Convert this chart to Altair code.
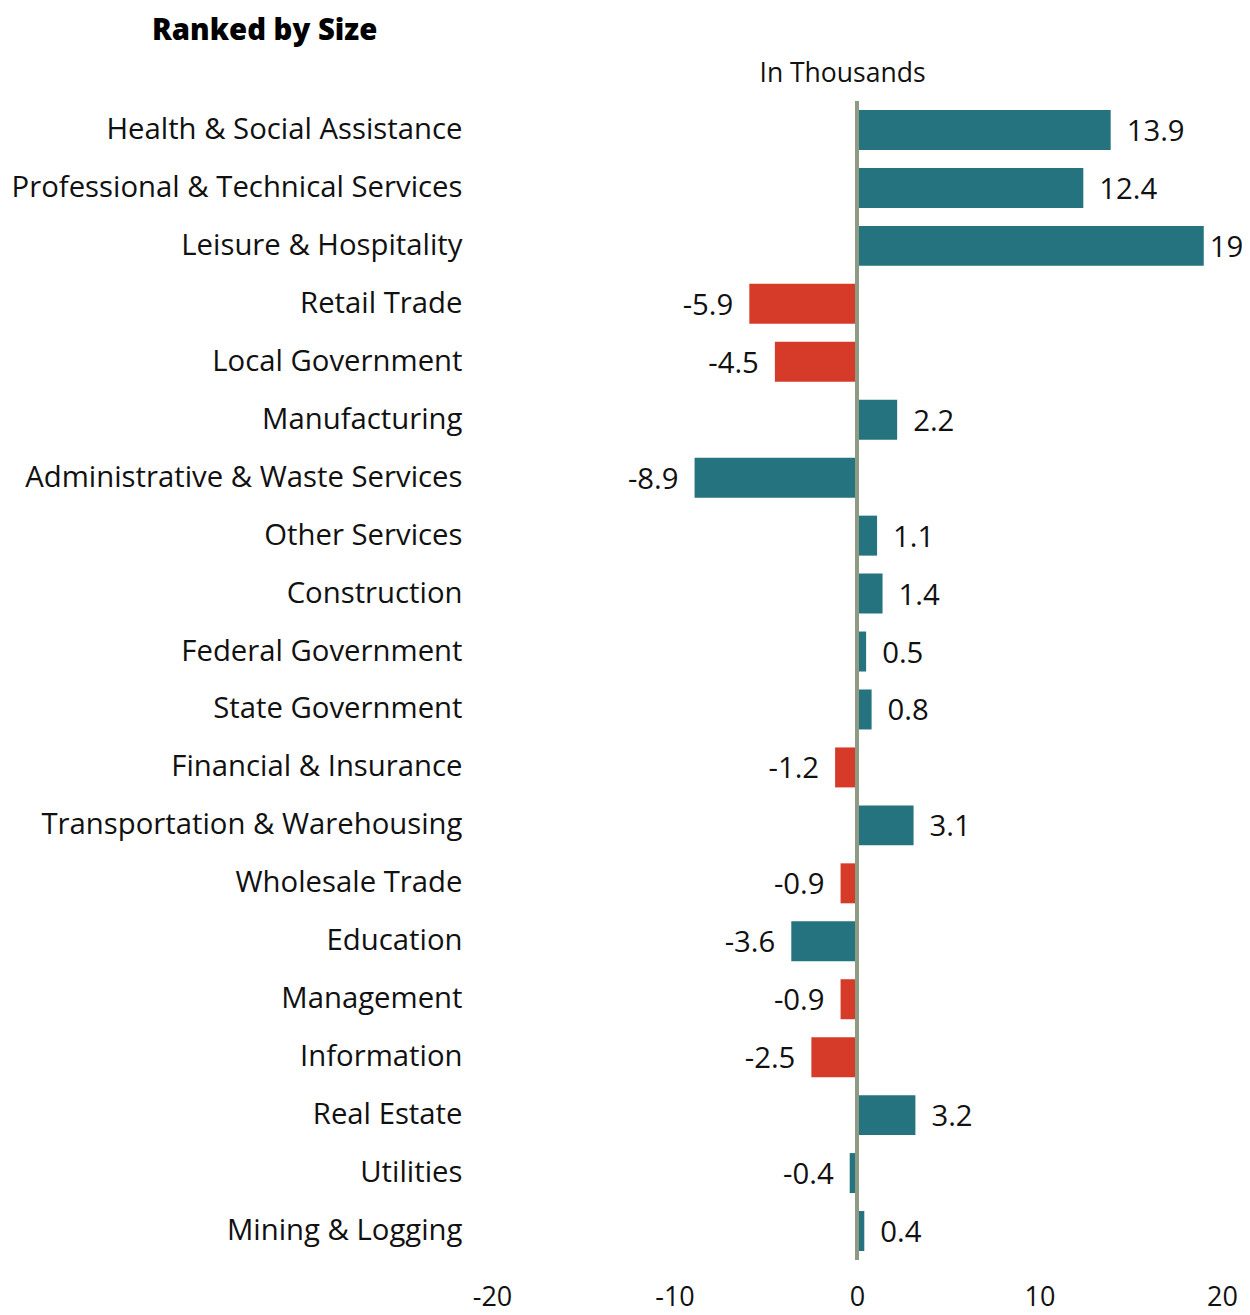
import altair as alt
import pandas as pd

categories = [
    "Health & Social Assistance",
    "Professional & Technical Services",
    "Leisure & Hospitality",
    "Retail Trade",
    "Local Government",
    "Manufacturing",
    "Administrative & Waste Services",
    "Other Services",
    "Construction",
    "Federal Government",
    "State Government",
    "Financial & Insurance",
    "Transportation & Warehousing",
    "Wholesale Trade",
    "Education",
    "Management",
    "Information",
    "Real Estate",
    "Utilities",
    "Mining & Logging",
]
values = [13.9, 12.4, 19, -5.9, -4.5, 2.2, -8.9, 1.1, 1.4, 0.5, 0.8, -1.2, 3.1,
          -0.9, -3.6, -0.9, -2.5, 3.2, -0.4, 0.4]
groups = ["teal", "teal", "teal", "red", "red", "teal", "teal", "teal", "teal",
          "teal", "teal", "red", "teal", "red", "teal", "red", "red", "teal",
          "teal", "teal"]
x_ticks = [-20, -10, 0, 10, 20]

df = pd.DataFrame({"category": categories, "value": values, "group": groups})
df["label"] = [f"{v:g}" for v in values]

FONT = "Open Sans"
TEXT = "#111111"
FS = 29.3

y_enc = alt.Y(
    "category:N",
    sort=categories,
    scale=alt.Scale(paddingInner=0.31, paddingOuter=0.155),
    axis=alt.Axis(title=None, labelFont=FONT, labelFontSize=FS, labelColor=TEXT,
                  labelPadding=30, ticks=False, domain=False, labelLimit=700),
)
x_scale = alt.Scale(domain=[-20, 20], nice=False)
x_enc = alt.X(
    "value:Q",
    scale=x_scale,
    axis=alt.Axis(title=None, values=x_ticks, grid=False, ticks=False, domain=False,
                  labelFlush=False, labelExpr="toString(datum.value)",
                  labelFont=FONT, labelFontSize=27, labelColor=TEXT, labelPadding=24),
)

base = alt.Chart(df)

bars = base.mark_bar().encode(
    x=x_enc,
    y=y_enc,
    color=alt.Color("group:N",
                    scale=alt.Scale(domain=["teal", "red"], range=["#25737E", "#D63B2A"]),
                    legend=None),
)

pos_labels = base.transform_filter("datum.value >= 0").mark_text(
    align="left", baseline="middle", dx=alt.expr("datum.value > 18 ? 6 : 16"), dy=2,
    font=FONT, fontSize=FS, color=TEXT
).encode(x=alt.X("value:Q", scale=x_scale, axis=None),
         y=alt.Y("category:N", sort=categories), text="label:N")

neg_labels = base.transform_filter("datum.value < 0").mark_text(
    align="right", baseline="middle", dx=-16, dy=2, font=FONT, fontSize=FS, color=TEXT
).encode(x=alt.X("value:Q", scale=x_scale, axis=None),
         y=alt.Y("category:N", sort=categories), text="label:N")

zero = alt.Chart(pd.DataFrame({"zero": [0]})).mark_rule(color="#8F9A84", strokeWidth=4).encode(
    x=alt.X("zero:Q", scale=x_scale,
            axis=alt.Axis(orient="top", title="In Thousands", labels=False, ticks=False,
                          domain=False, grid=False, titleFont=FONT, titleFontSize=26.5,
                          titleFontWeight="normal", titleColor=TEXT, titleX=350, titleY=-20,
                          titleAlign="center", titleBaseline="alphabetic"))
)

chart = alt.layer(bars, pos_labels, neg_labels, zero).resolve_axis(x="independent").properties(
    width=730,
    height=1159,
    autosize="none",
    padding={"left": 484, "top": 93, "right": 20, "bottom": 47},
    title=alt.TitleParams("Ranked by Size", anchor="start", frame="group", dx=-340,
                          offset=14, font=FONT, fontSize=FS, fontWeight=800, color="#000000"),
).configure(font=FONT, view=alt.ViewConfig(strokeWidth=0))

chart.save("out.html", embed_options={"renderer": "svg", "actions": False})
